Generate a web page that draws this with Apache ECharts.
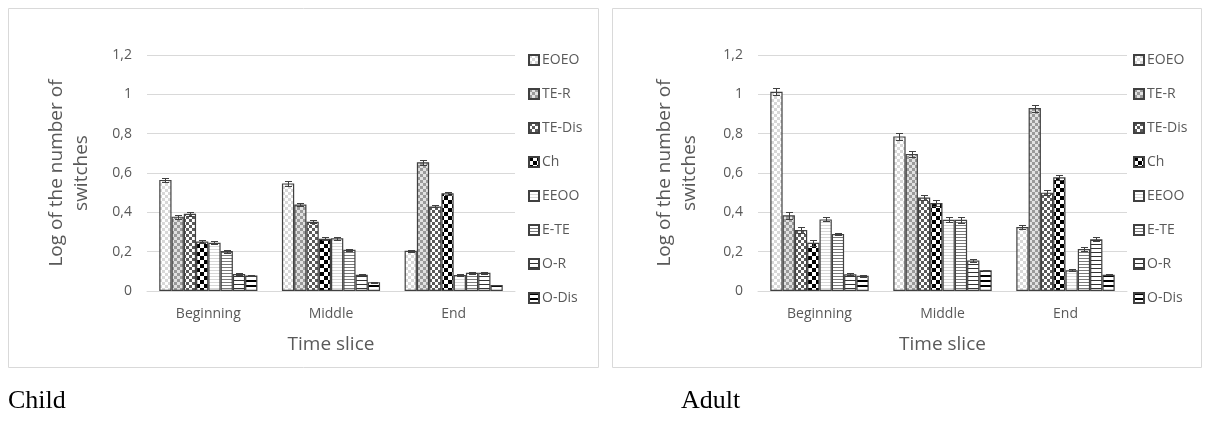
<!DOCTYPE html>
<html><head><meta charset="utf-8">
<script src="https://cdn.jsdelivr.net/npm/echarts@6/dist/echarts.min.js"></script>
<style>html,body{margin:0;padding:0;background:#fff}#c{width:1211px;height:421px}</style>
</head><body><div id="c"></div>
<script>
const categories = ['Beginning', 'Middle', 'End'];
const seriesNames = ['EOEO', 'TE-R', 'TE-Dis', 'Ch', 'EEOO', 'E-TE', 'O-R', 'O-Dis'];
const yTicks = [0, 0.2, 0.4, 0.6, 0.8, 1, 1.2];

// Child: values per time slice, in seriesNames order
const childBeginning = [0.565, 0.378, 0.393, 0.252, 0.245, 0.203, 0.086, 0.079];
const childMiddle    = [0.547, 0.440, 0.352, 0.266, 0.268, 0.210, 0.083, 0.045];
const childEnd       = [0.205, 0.655, 0.430, 0.497, 0.081, 0.093, 0.093, 0.030];
const childErrBeginning = [0.012, 0.010, 0.010, 0.007, 0.008, 0.008, 0.004, 0.004];
const childErrMiddle    = [0.012, 0.010, 0.008, 0.008, 0.007, 0.006, 0.004, 0.003];
const childErrEnd       = [0.006, 0.012, 0.005, 0.008, 0.003, 0.005, 0.005, 0.002];

// Adult
const adultBeginning = [1.013, 0.385, 0.310, 0.245, 0.364, 0.290, 0.085, 0.077];
const adultMiddle    = [0.786, 0.697, 0.475, 0.447, 0.362, 0.362, 0.155, 0.105];
const adultEnd       = [0.325, 0.930, 0.500, 0.578, 0.105, 0.213, 0.263, 0.083];
const adultErrBeginning = [0.018, 0.018, 0.014, 0.014, 0.010, 0.007, 0.004, 0.004];
const adultErrMiddle    = [0.018, 0.014, 0.014, 0.014, 0.012, 0.014, 0.006, 0.004];
const adultErrEnd       = [0.010, 0.018, 0.012, 0.014, 0.005, 0.010, 0.010, 0.004];

const panels = [
  {name: 'Child', vals: [childBeginning, childMiddle, childEnd], errs: [childErrBeginning, childErrMiddle, childErrEnd]},
  {name: 'Adult', vals: [adultBeginning, adultMiddle, adultEnd], errs: [adultErrBeginning, adultErrMiddle, adultErrEnd]}
];

function checker(cell, a, b) {
  const c = document.createElement('canvas');
  c.width = cell * 2; c.height = cell * 2;
  const g = c.getContext('2d');
  g.fillStyle = a; g.fillRect(0, 0, cell * 2, cell * 2);
  g.fillStyle = b; g.fillRect(0, 0, cell, cell); g.fillRect(cell, cell, cell, cell);
  return {image: c, repeat: 'repeat'};
}
function stripes(period, lw, bg, fg) {
  const c = document.createElement('canvas');
  c.width = 4; c.height = period;
  const g = c.getContext('2d');
  g.fillStyle = bg; g.fillRect(0, 0, 4, period);
  g.fillStyle = fg; g.fillRect(0, 0, 4, lw);
  return {image: c, repeat: 'repeat'};
}
const fills = [
  checker(3, '#ffffff', '#d8d8d8'),
  checker(3, '#e2e2e2', '#9a9a9a'),
  checker(3, '#ffffff', '#5a5a5a'),
  checker(4, '#ffffff', '#000000'),
  stripes(3, 1, '#ffffff', '#d6d6d6'),
  stripes(3, 1, '#ffffff', '#7a7a7a'),
  stripes(4, 1, '#ffffff', '#333333'),
  stripes(5, 2, '#ffffff', '#000000')
];

const FONT = 'Open Sans';
const TXT = '#595959';
const CAT_GAP = 0.2;

const grids = [
  {left: 147, right: 1211 - 515, top: 55, bottom: 130},
  {left: 758, right: 1211 - 1127, top: 55, bottom: 130}
];

const option = {
  animation: false,
  textStyle: {fontFamily: FONT},
  grid: grids,
  graphic: [
    {type: 'rect', shape: {x: 8.5, y: 8.5, width: 590, height: 359}, style: {fill: 'none', stroke: '#d9d9d9', lineWidth: 1}},
    {type: 'rect', shape: {x: 612.5, y: 8.5, width: 589, height: 359}, style: {fill: 'none', stroke: '#d9d9d9', lineWidth: 1}},
    {type: 'text', left: 8, top: 388, style: {text: panels[0].name, font: '26px "Liberation Serif"', fill: '#000'}},
    {type: 'text', left: 681, top: 388, style: {text: panels[1].name, font: '26px "Liberation Serif"', fill: '#000'}}
  ],
  legend: [0, 1].map(k => ({
    data: seriesNames,
    orient: 'vertical',
    left: k === 0 ? 523 : 1128,
    top: 48,
    itemWidth: 10, itemHeight: 10,
    itemGap: 20,
    icon: 'rect',
    textStyle: {fontFamily: FONT, fontSize: 14, color: TXT, padding: [0, 0, 0, -2]},
    selectedMode: false
  })),
  xAxis: [0, 1].map(k => ({
    type: 'category', gridIndex: k, data: categories,
    axisLine: {lineStyle: {color: '#d9d9d9'}},
    axisTick: {show: false},
    axisLabel: {fontFamily: FONT, fontSize: 14, color: TXT, margin: 16},
    name: 'Time slice', nameLocation: 'middle', nameGap: 44,
    nameTextStyle: {fontFamily: FONT, fontSize: 19, color: TXT}
  })),
  yAxis: [0, 1].map(k => ({
    type: 'value', gridIndex: k, min: 0, max: 1.2, interval: 0.2,
    axisLine: {show: false}, axisTick: {show: false},
    splitLine: {lineStyle: {color: '#d9d9d9'}},
    axisLabel: {fontFamily: FONT, fontSize: 14, color: TXT, margin: 15,
      formatter: v => String(+v.toFixed(1)).replace('.', ',')},
    name: 'Log of the number of\nswitches', nameLocation: 'middle', nameRotate: 90, nameGap: k === 0 ? 53 : 56,
    nameTextStyle: {fontFamily: FONT, fontSize: 19, color: TXT, lineHeight: 25, align: 'center'}
  })),
  series: []
};

panels.forEach((p, k) => {
  seriesNames.forEach((sn, i) => {
    option.series.push({
      type: 'bar', name: sn, xAxisIndex: k, yAxisIndex: k,
      barGap: 0, barCategoryGap: (CAT_GAP * 100) + '%',
      data: p.vals.map(arr => arr[i]),
      itemStyle: {color: fills[i], borderColor: '#404040', borderWidth: 1.2}
    });
  });
  seriesNames.forEach((sn, i) => {
    option.series.push({
      type: 'custom', name: 'err-' + p.name + '-' + sn, xAxisIndex: k, yAxisIndex: k, z: 5,
      data: p.vals.map((arr, c) => [c, arr[i], p.errs[c][i]]),
      encode: {x: 0, y: 1},
      renderItem: (params, api) => {
        const c = api.value(0), v = api.value(1), e = api.value(2);
        const base = api.coord([c, v]);
        const catW = api.size([1, 0])[0];
        const total = catW * (1 - CAT_GAP);
        const bw = total / seriesNames.length;
        const x = Math.round(base[0] - total / 2 + bw * (i + 0.5)) + 0.5;
        const yt = Math.round(api.coord([c, v + e])[1]) + 0.5;
        const yb = Math.round(api.coord([c, v - e])[1]) + 0.5;
        const hw = 3.5;
        const st = {stroke: '#404040', lineWidth: 1};
        return {type: 'group', children: [
          {type: 'line', shape: {x1: x, y1: yt, x2: x, y2: yb}, style: st},
          {type: 'line', shape: {x1: x - hw, y1: yt, x2: x + hw, y2: yt}, style: st},
          {type: 'line', shape: {x1: x - hw, y1: yb, x2: x + hw, y2: yb}, style: st}
        ]};
      }
    });
  });
});

const chart = echarts.init(document.getElementById('c'), null, {renderer: 'canvas'});
chart.setOption(option);
</script></body></html>
